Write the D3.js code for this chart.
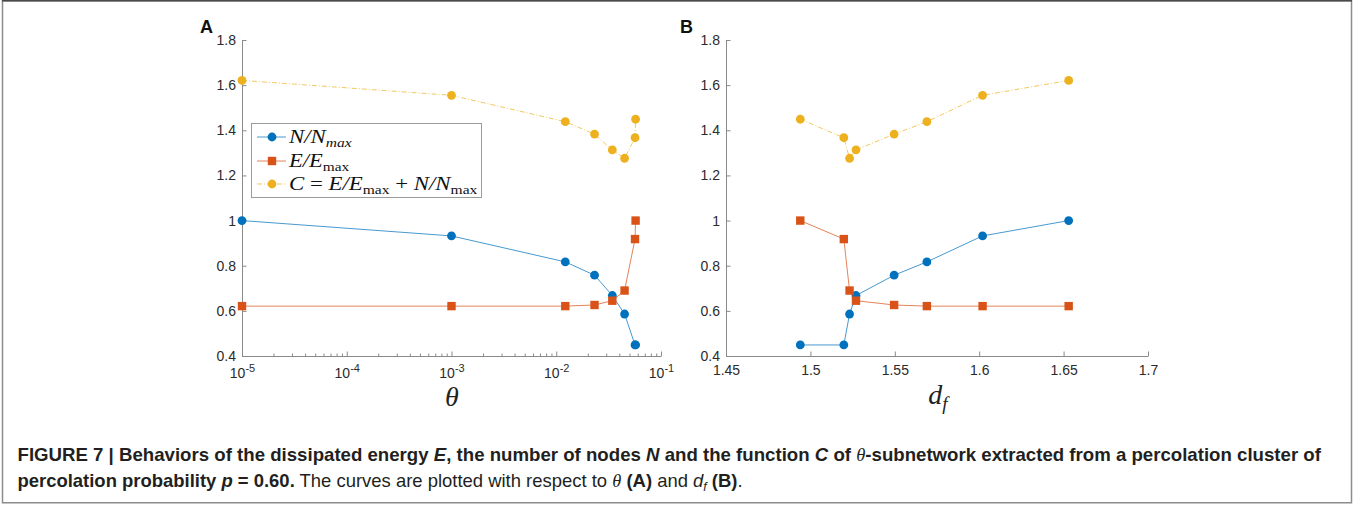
<!DOCTYPE html>
<html>
<head>
<meta charset="utf-8">
<script src="https://cdn.jsdelivr.net/npm/d3@7/dist/d3.min.js"></script>
<style>
  body { margin: 0; background: #fff; }
  svg { display: block; }
  .axis path, .axis line { stroke: #8a8a8a; }
</style>
</head>
<body>
<svg id="fig" width="1363" height="505"></svg>
<script>
// values, ordered by increasing theta (= decreasing d_f)
const theta = [1e-5, 1e-3, 0.0122, 0.0232, 0.0343, 0.0449, 0.0565, 0.0572];
const df = [1.653, 1.602, 1.569, 1.5496, 1.527, 1.5232, 1.5198, 1.494];
const nRatio = [1.0, 0.932, 0.817, 0.758, 0.668, 0.586, 0.449, 0.449];
const eRatio = [0.621, 0.621, 0.621, 0.626, 0.645, 0.690, 0.918, 1.0];
const cValue = [1.621, 1.555, 1.438, 1.383, 1.313, 1.276, 1.367, 1.449];

const yTicks = [0.4, 0.6, 0.8, 1, 1.2, 1.4, 1.6, 1.8];
const thetaTicks = [1e-5, 1e-4, 1e-3, 1e-2, 1e-1];
const dfTicks = [1.45, 1.5, 1.55, 1.6, 1.65, 1.7];

const svg = d3.select('#fig');
const sans = '"Liberation Sans", Arial, sans-serif';
const serif = '"Liberation Serif", "DejaVu Serif", serif';

const series = [
  { values: nRatio, color: '#0072BD', marker: 'circle', dash: null },
  { values: eRatio, color: '#D95319', marker: 'square', dash: null },
  { values: cValue, color: '#EDB120', marker: 'circle', dash: '5,2,1,2' }
];

// frame round the figure
svg.append('rect')
  .attr('x', 2.5).attr('y', 0.75).attr('width', 1349).attr('height', 502)
  .attr('fill', 'none').attr('stroke', '#8c8c8c').attr('stroke-width', 1.5);
svg.append('line')
  .attr('x1', 2).attr('x2', 1352).attr('y1', 0.75).attr('y2', 0.75)
  .attr('stroke', '#4a4a4a').attr('stroke-width', 1.5);

let drawMarker = (g, type, color, cx, cy) => {
  if (type === 'circle') {
    g.append('circle').attr('cx', cx).attr('cy', cy).attr('r', 4.4).attr('fill', color);
  } else {
    g.append('rect').attr('x', cx - 4.2).attr('y', cy - 4.2)
      .attr('width', 8.4).attr('height', 8.4).attr('fill', color);
  }
};

let drawPanel = (x, xs, y) => {
  const g = svg.append('g');
  series.forEach(s => {
    const line = d3.line()
      .x((d, i) => x(xs[i]))
      .y(d => y(d));
    g.append('path')
      .datum(s.values)
      .attr('d', line)
      .attr('fill', 'none')
      .attr('stroke', s.color)
      .attr('stroke-opacity', 0.72)
      .attr('stroke-width', 1)
      .attr('stroke-dasharray', s.dash);
    s.values.forEach((v, i) => drawMarker(g, s.marker, s.color, x(xs[i]), y(v)));
  });
};

let styleAxis = a => a.attr('font-family', sans).attr('font-size', 14)
  .selectAll('.tick text').attr('fill', '#2b2b2b');

let yAxis = (y, x0) => {
  svg.append('g')
    .attr('class', 'axis')
    .attr('transform', `translate(${x0},0)`)
    .call(d3.axisLeft(y).tickValues(yTicks).tickFormat(d => `${+d.toFixed(1)}`)
      .tickSizeInner(-4.5).tickSizeOuter(0).tickPadding(6))
    .call(styleAxis);
};

// panel A: log theta axis
const yA = d3.scaleLinear().domain([0.4, 1.8]).range([356, 40]);
const xA = d3.scaleLog().domain([1e-5, 1e-1]).range([242, 661]);
const minorTheta = [];
[-5, -4, -3, -2].forEach(e => {
  for (let m = 2; m <= 9; m++) minorTheta.push(m * Math.pow(10, e));
});

svg.append('g')
  .attr('class', 'axis')
  .attr('transform', 'translate(0,356)')
  .call(d3.axisBottom(xA).tickValues(minorTheta).tickFormat('')
    .tickSizeInner(-2.5).tickSizeOuter(0))
  .call(a => a.select('.domain').remove());

svg.append('g')
  .attr('class', 'axis')
  .attr('transform', 'translate(0,356)')
  .call(d3.axisBottom(xA).tickValues(thetaTicks).tickFormat('')
    .tickSizeInner(-4.5).tickSizeOuter(0).tickPadding(12))
  .call(styleAxis)
  .call(a => a.selectAll('.tick text')
    .each(function (d) {
      const t = d3.select(this);
      t.append('tspan').text('10');
      t.append('tspan').attr('dy', '-0.5em').attr('font-size', 11)
        .text(`${Math.round(Math.log10(d))}`);
    }));
yAxis(yA, 242);
drawPanel(xA, theta, yA);

// panel B: d_f axis
const yB = d3.scaleLinear().domain([0.4, 1.8]).range([356, 40]);
const xB = d3.scaleLinear().domain([1.45, 1.7]).range([726, 1148]);
svg.append('g')
  .attr('class', 'axis')
  .attr('transform', 'translate(0,356)')
  .call(d3.axisBottom(xB).tickValues(dfTicks).tickFormat(d => `${+d.toFixed(2)}`)
    .tickSizeInner(-4.5).tickSizeOuter(0).tickPadding(9))
  .call(styleAxis);
yAxis(yB, 726);
drawPanel(xB, df, yB);

// panel letters and axis titles
svg.append('text').attr('x', 200).attr('y', 33).text('A')
  .attr('font-family', sans).attr('font-weight', 'bold')
  .attr('font-size', 18).attr('fill', '#111');
svg.append('text').attr('x', 680).attr('y', 33).text('B')
  .attr('font-family', sans).attr('font-weight', 'bold')
  .attr('font-size', 18).attr('fill', '#111');

svg.append('text').attr('x', 452).attr('y', 406).attr('text-anchor', 'middle')
  .attr('font-family', serif).attr('font-style', 'italic')
  .attr('font-size', 28).attr('fill', '#222').text('θ');
const dfLabel = svg.append('text').attr('x', 938).attr('y', 404).attr('text-anchor', 'middle')
  .attr('font-family', serif).attr('font-style', 'italic')
  .attr('font-size', 28).attr('fill', '#222');
dfLabel.append('tspan').text('d');
dfLabel.append('tspan').attr('dy', 6).attr('font-size', 19).text('f');

// legend
const legend = svg.append('g');
legend.append('rect').attr('x', 251.5).attr('y', 123.5).attr('width', 230).attr('height', 74)
  .attr('fill', '#fff').attr('stroke', '#9a9a9a').attr('stroke-width', 1);

const legendRows = [
  [['N/N', 'i'], ['max', 'subi']],
  [['E/E', 'i'], ['max', 'sub']],
  [['C', 'i'], [' = ', 'r'], ['E/E', 'i'], ['max', 'sub'], [' + ', 'r'], ['N/N', 'i'], ['max', 'sub']]
];
const legendBase = [143, 167, 190];
const legendRight = [353, 351, 478];

let addParts = (text, parts) => {
  let shifted = false;
  parts.forEach(([str, style]) => {
    const t = text.append('tspan').text(str);
    if (style.startsWith('sub')) {
      t.attr('font-size', '0.68em').attr('dy', 4);
      if (style === 'subi') t.attr('font-style', 'italic');
      else t.attr('font-style', 'normal');
      shifted = true;
    } else {
      if (shifted) { t.attr('dy', -4); shifted = false; }
      t.attr('font-style', style === 'i' ? 'italic' : 'normal');
    }
  });
};

let fitText = (text, x, y, width) => {
  const w = text.node().getBBox().width;
  text.attr('transform', `translate(${x},${y}) scale(${width / w},1)`);
};

series.forEach((s, i) => {
  const cy = legendBase[i] - 6;
  legend.append('line').attr('x1', 257).attr('x2', 286).attr('y1', cy).attr('y2', cy)
    .attr('stroke', s.color).attr('stroke-opacity', 0.72).attr('stroke-width', 1)
    .attr('stroke-dasharray', s.dash);
  drawMarker(legend, s.marker, s.color, 272, cy);
  const t = legend.append('text')
    .attr('font-family', serif)
    .attr('font-size', 19).attr('fill', '#111');
  addParts(t, legendRows[i]);
  fitText(t, 289, legendBase[i], legendRight[i] - 289);
});

// caption
const captionLines = [
  [['FIGURE 7 | Behaviors of the dissipated energy ', 'b'], ['E', 'bi'],
   [', the number of nodes ', 'b'], ['N', 'bi'], [' and the function ', 'b'], ['C', 'bi'],
   [' of ', 'b'], ['θ', 'th'], ['-subnetwork extracted from a percolation cluster of', 'b']],
  [['percolation probability ', 'b'], ['p', 'bi'], [' = 0.60.', 'b'],
   [' The curves are plotted with respect to ', 'r'], ['θ', 'th'], [' ', 'r'], ['(A)', 'b'],
   [' and ', 'r'], ['d', 'ri'], ['f', 'subf'], [' ', 'r'], ['(B)', 'b'], ['.', 'r']]
];
const captionBase = [461, 487];
const captionRight = [1323, 743];

captionLines.forEach((parts, li) => {
  const t = svg.append('text')
    .attr('font-family', sans)
    .attr('font-size', 18).attr('fill', '#231f20');
  let shifted = false;
  parts.forEach(([str, style]) => {
    const s = t.append('tspan').text(str);
    if (shifted) { s.attr('dy', -4); shifted = false; }
    if (style === 'b' || style === 'bi') s.attr('font-weight', 'bold');
    if (style === 'bi' || style === 'ri') s.attr('font-style', 'italic');
    if (style === 'th') s.attr('font-family', serif).attr('font-style', 'italic');
    if (style === 'subf') {
      s.attr('font-style', 'italic').attr('font-size', 12).attr('dy', 4);
      shifted = true;
    }
  });
  fitText(t, 17.5, captionBase[li], captionRight[li] - 17.5);
});
</script>
</body>
</html>
